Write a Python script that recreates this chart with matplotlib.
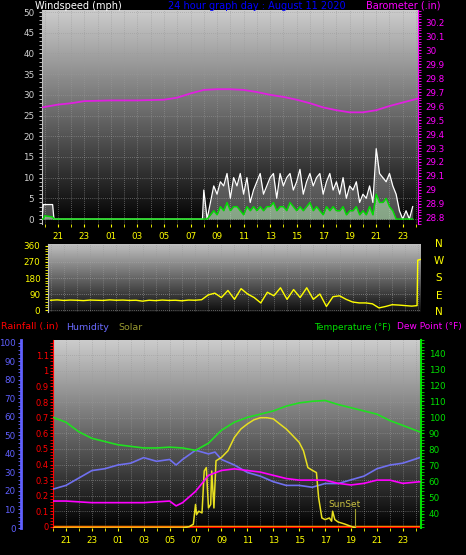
import numpy as np
import matplotlib
matplotlib.use("Agg")
import matplotlib.pyplot as plt
from matplotlib.ticker import MultipleLocator, FixedLocator, FuncFormatter

# ---------------- data ----------------
baro_t = [19.8, 21, 22, 23, 25, 27, 29, 30, 31, 32, 33, 34, 35, 36, 37, 38, 39, 40, 41, 42, 43, 44, 45, 46, 47, 48.2]
baro_v = [29.59, 29.61, 29.62, 29.635, 29.64, 29.64, 29.645, 29.66, 29.69, 29.715, 29.72, 29.72, 29.715, 29.70,
          29.68, 29.665, 29.645, 29.62, 29.59, 29.57, 29.555, 29.555, 29.57, 29.60, 29.625, 29.655]

early_t = [19.8, 19.9, 20.0, 20.6, 20.7, 31.9]
early_gust = [0, 3.5, 3.5, 3.5, 0, 0]
early_avg = [0, 0, 0.8, 0.5, 0, 0]
gust = [7, 0, 4, 8, 6, 9, 8, 11, 5, 10, 8, 11, 6, 10, 4, 7, 9, 11, 6, 8, 10, 11, 5, 11,
        8, 10, 11, 7, 9, 12, 6, 9, 11, 8, 10, 11, 6, 9, 11, 7, 9, 6, 10, 5, 8, 7, 9, 4,
        6, 5, 8, 4, 17, 11, 10, 9, 11, 8, 6, 2, 0, 2, 0, 3]
avg = [0, 0, 1, 2, 1, 3, 2, 4, 2, 3, 3, 2, 1, 3, 2, 3, 2, 3, 2, 3, 3, 4, 2, 3,
       3, 2, 4, 3, 2, 3, 2, 3, 4, 2, 3, 2, 1, 3, 2, 3, 2, 2, 3, 1, 2, 2, 3, 1,
       2, 1, 3, 1, 6, 4, 4, 5, 3, 2, 0, 0, 0, 0, 0, 0]

dir_v = [55, 57, 54, 56, 55, 53, 56, 55, 54, 57, 55, 56, 54, 55, 50, 55, 53, 56, 54, 55, 52, 56, 55,
         58, 85, 95, 70, 110, 60, 120, 90, 70, 40, 100, 80, 125, 60, 115, 70, 125, 60, 90, 20, 75, 80,
         60, 45, 40, 40, 35, 12, 20, 30, 28, 25, 22]
dir_tail_t = [47.9, 47.95, 48.2]
dir_tail_v = [25, 280, 285]

temp_t = [20, 21, 22, 23, 24, 25, 26, 27, 28, 29, 30, 31, 32, 33, 34, 35, 36, 37, 38, 39, 40, 41, 42, 43, 44, 45, 46, 47, 48.3]
temp_v = [100, 97, 91, 87, 85, 83, 82, 81, 81, 81.5, 81, 79.5, 84, 92, 97, 100, 102, 104, 107, 109, 110, 110.5,
          108, 106, 104, 102, 98, 95, 91]
hum_t = [20, 21, 22, 23, 24, 25, 26, 27, 28, 29, 29.5, 30, 31, 31.5, 32, 32.5, 33, 34, 35, 36, 37, 38, 39, 40, 41,
         42, 43, 44, 45, 46, 47, 48.3]
hum_v = [21, 23, 27, 31, 32, 34, 35, 38, 36, 37, 34, 37, 42, 41, 40, 41, 37, 34, 30, 28, 25, 23, 23, 22, 24,
         24, 26, 28, 32, 34, 35, 38]
dew_t = [20, 21, 23, 25, 27, 29, 29.5, 30, 31, 32, 33, 34, 35, 36, 37, 38, 39, 40, 41, 42, 43, 44, 45, 46, 47, 48.3]
dew_v = [48, 48, 47, 47, 47, 48, 45, 47, 54, 64, 67, 68, 67, 66, 64, 62, 61, 61, 61, 59, 58, 59, 61, 61, 59, 60]
solar_t = [20, 30, 30.5, 30.83, 31.0, 31.08, 31.25, 31.5, 31.67, 31.83, 32.0, 32.17, 32.25, 32.42, 32.58, 33.0,
           33.5, 34.0, 34.5, 35.0, 35.5, 36.0, 36.5, 37.0, 37.5, 38.0, 38.5, 39.0, 39.33, 39.67, 40.0, 40.33,
           40.5, 40.75, 41.0, 41.33, 41.5, 41.58, 41.75, 42.0, 42.5, 43.0, 43.33]
solar_v = [0, 0, 10, 30, 188, 107, 134, 120, 455, 482, 160, 188, 455, 160, 536, 563, 616, 723, 790, 830, 863,
           880, 880, 871, 830, 790, 737, 683, 616, 482, 461, 442, 241, 80, 67, 80, 54, 134, 67, 48, 32, 13, 0]
rain_t = [20, 48.3]
rain_v = [0, 0]

W, H = 466, 555
fig = plt.figure(figsize=(W / 100, H / 100), dpi=100, facecolor="black")
FS = 6.3


def rect(x0, y0, x1, y1):
    return [x0 / W, 1 - y1 / H, (x1 - x0) / W, (y1 - y0) / H]


def grad(ax, top, bot):
    g = np.linspace(0, 1, 256).reshape(-1, 1)
    c0, c1 = np.array(top), np.array(bot)
    img = c0[None, None, :] * (1 - g[..., None]) + c1[None, None, :] * g[..., None]
    ax.imshow(img, extent=[0, 1, 0, 1], transform=ax.transAxes, aspect="auto", zorder=0)


hour_fmt = FuncFormatter(lambda v, p: "%02d" % (int(round(v)) % 24))


def style_x(ax, xl):
    ax.set_xlim(*xl)
    ax.xaxis.set_major_locator(FixedLocator(list(range(21, 49, 2))))
    ax.xaxis.set_major_formatter(hour_fmt)
    ax.xaxis.set_minor_locator(FixedLocator(list(range(20, 49))))
    ax.tick_params(axis="x", colors="yellow", labelsize=FS, length=2, which="both")
    for v in range(20, 49):
        ax.axvline(v, color="#9a9a9a", lw=0.5, ls=(0, (1, 2)), zorder=1)
    for s in ax.spines.values():
        s.set_visible(False)


# ---------------- top panel ----------------
ax1 = fig.add_axes(rect(42, 10, 418, 224))
grad(ax1, (0.80, 0.80, 0.80), (0.0, 0.0, 0.0))
style_x(ax1, (19.8, 48.15))
ax1.set_ylim(-1.2, 50.5)
ax1.yaxis.set_major_locator(MultipleLocator(5))
ax1.yaxis.set_minor_locator(MultipleLocator(1))
ax1.tick_params(axis="y", colors="#d0d0d0", labelsize=FS, length=2, which="both")
for v in range(0, 51, 5):
    ax1.axhline(v, color="#9a9a9a", lw=0.5, ls=(0, (1, 2)), zorder=1)
ax1.spines["left"].set_visible(True)
ax1.spines["left"].set_color("#c0c0c0")
wt = np.concatenate([early_t, 32 + 0.25 * np.arange(len(gust))])
wg = np.concatenate([early_gust, gust])
wa = np.concatenate([early_avg, avg])
ax1.fill_between(wt, 0, wg, color="#e8e8e8", alpha=0.3, lw=0, zorder=2)
ax1.plot(wt, wg, color="white", lw=0.9, zorder=3)
ax1.fill_between(wt, 0, wa, color="#b8f0b8", alpha=0.55, lw=0, zorder=4)
ax1.plot(wt, wa, color="#00e000", lw=1.0, zorder=5)
ax1b = ax1.twinx()
ax1b.set_ylim(28.757, 30.286)
ax1b.yaxis.set_major_locator(MultipleLocator(0.1))
ax1b.yaxis.set_major_formatter(FuncFormatter(lambda v, p: ("%d" % round(v)) if abs(v - round(v)) < 1e-6 else "%.1f" % v))
ax1b.yaxis.set_minor_locator(MultipleLocator(0.02))
ax1b.tick_params(axis="y", colors="#ff00ff", labelsize=FS, length=2, which="both")
for s in ax1b.spines.values():
    s.set_visible(False)
ax1b.spines["right"].set_visible(True)
ax1b.spines["right"].set_color("#ff00ff")
ax1b.plot(baro_t, baro_v, color="#e020e0", lw=1.3)

fig.text(35 / W, 1 - 6 / H, "Windspeed (mph)", color="white", fontsize=7, va="center")
fig.text(257 / W, 1 - 6 / H, "24 hour graph day : August 11 2020", color="#0000ff", fontsize=7, va="center", ha="center")
fig.text(440 / W, 1 - 6 / H, "Barometer (.in)", color="#ff00ff", fontsize=7, va="center", ha="right")

# ---------------- middle panel ----------------
ax2 = fig.add_axes(rect(48, 244, 421, 312))
grad(ax2, (0.75, 0.75, 0.75), (0.05, 0.05, 0.05))
style_x(ax2, (19.8, 48.2))
ax2.tick_params(axis="x", labelbottom=False, length=0, which="both")
ax2.set_ylim(-11, 371)
ax2.yaxis.set_major_locator(MultipleLocator(90))
ax2.yaxis.set_minor_locator(MultipleLocator(15))
ax2.tick_params(axis="y", colors="yellow", labelsize=FS, length=2, which="both")
ax2.spines["left"].set_visible(True)
ax2.spines["left"].set_color("#c0c0c0")
for v in range(0, 361, 90):
    ax2.axhline(v, color="#aaaaaa", lw=0.5, ls=(0, (1, 2)), zorder=1)
dt = np.concatenate([np.arange(20, 48, 0.5), dir_tail_t])
dv = np.concatenate([dir_v, dir_tail_v])
ax2.plot(dt, dv, color="yellow", lw=1.0, zorder=3)
for lab, y in zip(["N", "W", "S", "E", "N"], [244, 261, 278, 296, 312]):
    fig.text(439 / W, 1 - y / H, lab, color="yellow", fontsize=7.5, ha="center", va="center")

# ---------------- bottom panel ----------------
ax3 = fig.add_axes(rect(53, 340, 421, 528))
grad(ax3, (0.80, 0.80, 0.80), (0.0, 0.0, 0.0))
style_x(ax3, (20.0, 48.4))
ax3.set_ylim(0 - 1 * 0.1 / 15.5, 1.197)
ax3.yaxis.set_major_locator(MultipleLocator(0.1))
ax3.yaxis.set_major_formatter(FuncFormatter(lambda v, p: ("%d" % round(v)) if abs(v - round(v)) < 1e-6 else "%.1f" % v))
ax3.yaxis.set_minor_locator(MultipleLocator(0.02))
ax3.tick_params(axis="y", colors="red", labelsize=FS - 0.3, length=2, which="both", pad=1)
ax3.spines["left"].set_visible(True)
ax3.spines["left"].set_color("red")
ax3.spines["left"].set_linestyle((0, (2, 1)))
for v in np.arange(0, 1.15, 0.1):
    ax3.axhline(v, color="#9a9a9a", lw=0.5, ls=(0, (1, 2)), zorder=1)
ax3.plot(rain_t, rain_v, color="#ff9900", lw=2.5, zorder=2)
ax3.plot(rain_t, rain_v, color="red", lw=1.0, zorder=2)

axh = ax3.twinx()
axh.set_ylim(0, 101.5)
axh.yaxis.set_label_position("left")
axh.yaxis.tick_left()
for s in axh.spines.values():
    s.set_visible(False)
axh.spines["left"].set_visible(True)
axh.spines["left"].set_position(("outward", 23))
axh.spines["left"].set_color("#6060ff")
axh.spines["left"].set_linewidth(2)
axh.yaxis.set_major_locator(MultipleLocator(10))
axh.yaxis.set_minor_locator(MultipleLocator(2))
axh.tick_params(axis="y", colors="#6060ff", labelsize=FS, length=2, which="both", pad=2)
axh.plot(hum_t, hum_v, color="#7070f0", lw=1.2, zorder=3)

axs = ax3.twinx()
axs.set_ylim(0, 1500)
axs.set_axis_off()
axs.plot(solar_t, solar_v, color="#e8e020", lw=1.1, zorder=4)
axs.plot([43.3, 43.3], [0, 150], color="#a0a030", lw=0.8)
axs.text(42.5, 150, "SunSet", color="#c8c040", fontsize=6.5, ha="center", va="bottom")

axt = ax3.twinx()
axt.set_ylim(31.25, 148.1)
axt.yaxis.set_major_locator(FixedLocator(list(range(40, 141, 10))))
axt.yaxis.set_minor_locator(MultipleLocator(2))
axt.tick_params(axis="y", colors="#00e000", labelsize=FS, length=2, which="both")
for s in axt.spines.values():
    s.set_visible(False)
axt.spines["right"].set_visible(True)
axt.spines["right"].set_color("#00e000")
axt.spines["right"].set_linewidth(1.5)
axt.plot(dew_t, dew_v, color="#ff00ff", lw=1.2, zorder=3)
axt.plot(temp_t, temp_v, color="#20e020", lw=1.2, zorder=3)

y = 1 - 327 / H
fig.text(1 / W, y, "Rainfall (.in)", color="red", fontsize=6.8, va="center")
fig.text(66 / W, y, "Humidity", color="#6a6aff", fontsize=6.8, va="center")
fig.text(118 / W, y, "Solar", color="#9a9a30", fontsize=6.8, va="center")
fig.text(391 / W, y, "Temperature (°F)", color="#00e000", fontsize=6.5, va="center", ha="right")
fig.text(462 / W, y, "Dew Point (°F)", color="#ff00ff", fontsize=6.5, va="center", ha="right")

fig.savefig("out.png", dpi=100, facecolor="black")
